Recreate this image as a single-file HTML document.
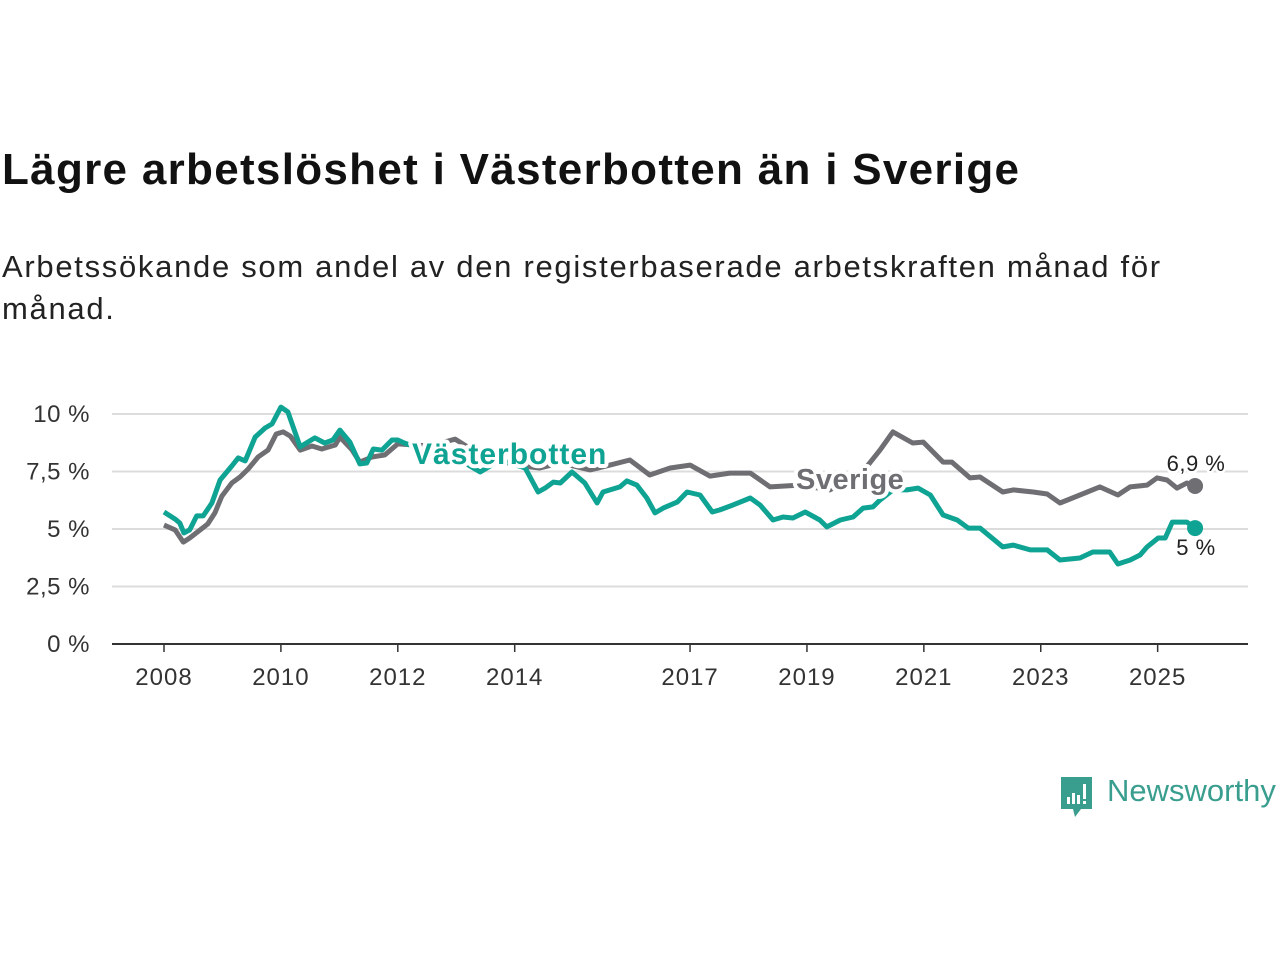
<!DOCTYPE html>
<html><head><meta charset="utf-8"><style>
body{margin:0;width:1280px;height:960px;background:#fff;font-family:"Liberation Sans",sans-serif;overflow:hidden;position:relative}
h1{position:absolute;left:2px;top:145px;margin:0;font-size:44px;font-weight:bold;color:#111;letter-spacing:1.3px;white-space:nowrap}
.sub{position:absolute;left:2px;top:246px;margin:0;font-size:31px;line-height:42px;color:#222;width:1180px;letter-spacing:1.7px}
svg{position:absolute;left:0;top:0}
</style></head><body>
<h1>Lägre arbetslöshet i Västerbotten än i Sverige</h1>
<p class="sub">Arbetssökande som andel av den registerbaserade arbetskraften månad för månad.</p>
<svg id="chart" width="1280" height="960"></svg>
<div style="position:absolute;left:1059px;top:773px;">
<svg width="36" height="46" style="position:absolute;left:0;top:2px">
<path d="M2 2 H33 V34 H22 L16 42 L14 34 H2 Z" fill="#3a9e8f"/>
<rect x="8" y="22" width="3" height="7" fill="#fff"/><rect x="13" y="18" width="3" height="11" fill="#fff"/><rect x="18" y="20" width="3" height="9" fill="#fff"/><rect x="24" y="9" width="3" height="15" fill="#fff"/><rect x="24" y="26" width="3" height="3" fill="#fff"/>
</svg>
<span style="position:absolute;left:48px;top:0;font-size:31px;color:#3a9e8f;white-space:nowrap">Newsworthy</span>
</div>
<script>
const yTicks=[0,2.5,5,7.5,10];
const yTickLabels=["0 %","2,5 %","5 %","7,5 %","10 %"];
const xTicks=[2008,2010,2012,2014,2017,2019,2021,2023,2025];
const sverigeYears=[2008.00,2008.19,2008.33,2008.44,2008.62,2008.75,2008.87,2008.99,2009.16,2009.30,2009.44,2009.61,2009.78,2009.92,2010.04,2010.16,2010.33,2010.53,2010.70,2010.93,2011.01,2011.22,2011.35,2011.56,2011.78,2012.00,2012.55,2012.98,2013.41,2013.75,2013.99,2014.43,2014.78,2015.29,2015.63,2015.97,2016.31,2016.66,2017.00,2017.34,2017.68,2018.03,2018.37,2018.88,2019.39,2019.91,2020.25,2020.47,2020.81,2020.99,2021.33,2021.48,2021.79,2021.96,2022.35,2022.53,2022.87,2023.11,2023.33,2023.67,2024.01,2024.32,2024.53,2024.82,2024.99,2025.16,2025.33,2025.50,2025.64];
const sverigeValues=[5.17,4.96,4.43,4.61,4.96,5.22,5.70,6.43,7.00,7.26,7.61,8.13,8.43,9.13,9.22,9.04,8.43,8.61,8.48,8.65,9.00,8.43,7.91,8.13,8.22,8.70,8.61,8.91,8.22,8.00,7.78,7.65,7.87,7.57,7.78,8.00,7.35,7.65,7.78,7.30,7.43,7.43,6.83,6.91,6.70,7.35,8.43,9.22,8.74,8.78,7.91,7.91,7.22,7.26,6.61,6.70,6.61,6.52,6.13,6.48,6.83,6.48,6.83,6.91,7.22,7.13,6.78,7.00,6.87];
const vbYears=[2008.00,2008.19,2008.27,2008.34,2008.44,2008.56,2008.67,2008.82,2008.96,2009.16,2009.27,2009.39,2009.56,2009.73,2009.85,2010.00,2010.12,2010.33,2010.46,2010.58,2010.75,2010.89,2011.01,2011.18,2011.35,2011.47,2011.58,2011.73,2011.90,2012.00,2012.11,2012.55,2013.06,2013.41,2013.75,2014.18,2014.40,2014.52,2014.66,2014.78,2014.98,2015.20,2015.41,2015.51,2015.80,2015.92,2016.09,2016.26,2016.40,2016.54,2016.78,2016.95,2017.17,2017.38,2017.51,2017.73,2018.03,2018.20,2018.42,2018.59,2018.76,2018.97,2019.22,2019.34,2019.57,2019.79,2019.96,2020.13,2020.25,2020.47,2020.71,2020.90,2021.11,2021.33,2021.57,2021.76,2021.96,2022.35,2022.53,2022.82,2023.11,2023.33,2023.67,2023.89,2024.18,2024.32,2024.53,2024.70,2024.82,2025.01,2025.13,2025.25,2025.50,2025.64];
const vbValues=[5.74,5.43,5.26,4.83,4.96,5.57,5.57,6.13,7.13,7.74,8.09,7.96,9.00,9.39,9.57,10.30,10.09,8.57,8.78,8.96,8.74,8.87,9.30,8.78,7.83,7.87,8.48,8.43,8.87,8.87,8.74,8.35,8.00,7.48,8.00,7.65,6.61,6.78,7.04,7.00,7.48,7.00,6.13,6.61,6.83,7.09,6.91,6.35,5.70,5.91,6.17,6.61,6.48,5.74,5.83,6.04,6.35,6.04,5.39,5.52,5.48,5.74,5.39,5.09,5.39,5.52,5.91,5.96,6.26,6.70,6.70,6.78,6.48,5.61,5.39,5.04,5.04,4.22,4.30,4.09,4.09,3.65,3.74,4.00,4.00,3.48,3.65,3.87,4.22,4.61,4.61,5.30,5.30,5.04];

const NS='http://www.w3.org/2000/svg';
const svg=document.getElementById('chart');
const X=y=>164+(y-2008)*58.45;
const Y=v=>644-v*23;
function mk(t,a,p){const e=document.createElementNS(NS,t);for(const k in a)e.setAttribute(k,a[k]);(p||svg).appendChild(e);return e;}
yTicks.forEach((t,i)=>{
  if(t>0){const g=mk('line',{x1:112,x2:1248,y1:Y(t),y2:Y(t),stroke:'#dcdcdc','stroke-width':2});
  
  }
  const l=mk('text',{x:90,y:Y(t)+8,'text-anchor':'end','font-size':24,fill:'#333','letter-spacing':0.5});
  l.textContent=yTickLabels[i];
  
  
});
xTicks.forEach(t=>{
  const tk=mk('line',{x1:X(t),x2:X(t),y1:644,y2:652,stroke:'#333','stroke-width':1.5});
  
  
  const l=mk('text',{x:X(t),y:685,'text-anchor':'middle','font-size':24,fill:'#333','letter-spacing':1});
  l.textContent=String(t);
  
  
});
const ax=mk('line',{x1:112,x2:1248,y1:644,y2:644,stroke:'#333','stroke-width':2});


function line(xs,vs,c,name){
  const d=xs.map((x,i)=>(i?'L':'M')+X(x).toFixed(1)+' '+Y(vs[i]).toFixed(1)).join(' ');
  const p=mk('path',{d:d,fill:'none',stroke:c,'stroke-width':5,'stroke-linejoin':'round'});
  
  
  const n=xs.length-1;
  const dot=mk('circle',{cx:X(xs[n]),cy:Y(vs[n]),r:8,fill:c});
  
  
}
line(sverigeYears,sverigeValues,'#6f6e73','sverige-line');
line(vbYears,vbValues,'#0fa393','vasterbotten-line');
function lab(x,y,t,c,name,sz,bold,anchor,ls){
  const e=mk('text',{x:x,y:y,'font-size':sz,fill:c,'font-weight':bold?'bold':'normal','text-anchor':anchor||'start','letter-spacing':ls||0,stroke:'#fff','stroke-width':bold?8:5,'paint-order':'stroke','stroke-linejoin':'round'});
  e.textContent=t;
  
  
}
lab(412,464,'Västerbotten','#0fa393','vasterbotten-label',30,true,'start',1);
lab(796,489,'Sverige','#6f6e73','sverige-label',29,true,'start',0.5);
lab(1196,471,'6,9 %','#222','sverige-end-value',22,false,'middle',0.5);
lab(1196,555,'5 %','#222','vasterbotten-end-value',22,false,'middle',0.5);
</script>
</body></html>
